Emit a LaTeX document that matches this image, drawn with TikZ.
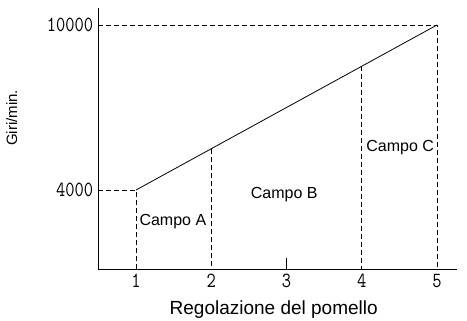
\documentclass[tikz,border=0pt]{standalone}
\usepackage{fontspec}
\setmainfont{Liberation Sans}
\usepackage{tikz}
\usetikzlibrary{positioning}

\tikzset{
  guide/.style={black,line width=0.6pt,dash pattern=on 5pt off 3pt},
  campo/.style={font=\fontsize{16}{18}\selectfont,inner sep=1pt},
  ticknum/.style={font=\ttfamily\fontsize{18}{20}\selectfont,inner sep=1pt,yscale=1.2}
}

\begin{document}
\begin{tikzpicture}[x=75.25pt,y=27.5pt]
        \useasboundingbox (-0.8073,-0.7273) rectangle (5.3987,10.9091);
        % assi
        \coordinate (O) at (0.5,1.1);
        \coordinate (ytop) at (0.5,10.62);
        \coordinate (xend) at (5.27,1.1);
        \draw[line width=0.9pt] (ytop) -- (O) -- (xend);
        % retta giri/min
        \coordinate (p1) at (1,4);
        \coordinate (p2) at (2,5.5);
        \coordinate (p4) at (4,8.5);
        \coordinate (p5) at (5,10);
        \draw[line width=0.8pt] (p1) -- (p5);
        % tacche e numeri
        \foreach \k in {1,...,5} {
          \coordinate (b\k) at (\k,1.1);
          \node[ticknum,anchor=north] (n\k) at ([yshift=-3pt]b\k) {\k};
        }
        \draw[line width=0.7pt] (b3) -- ++(0,0.44);
        % linee tratteggiate
        \coordinate (y4) at (0.5,4);
        \coordinate (y10) at (0.5,10);
        \draw[guide] (y4) -- (p1) -- (b1);
        \draw[guide] (y10) -- (p5) -- (b5);
        \draw[guide] (p2) -- (b2);
        \draw[guide] (p4) -- (b4);
        % etichette
        \node[ticknum,anchor=east] (l10) at ([xshift=-4pt]y10) {10000};
        \node[ticknum,anchor=east] (l4) at ([xshift=-4pt]y4) {4000};
        \node[campo] (cA) at (1.49,2.84) {Campo A};
        \node[campo] (cB) at (2.97,3.82) {Campo B};
        \node[campo] (cC) at (4.51,5.53) {Campo C};
        \node[font=\fontsize{19}{21}\selectfont] (xl) at (2.83,-0.36) {Regolazione del pomello};
        \node[font=\fontsize{15}{17}\selectfont,rotate=90] (yl) at (-0.65,6.62) {Giri/min.};
\end{tikzpicture}
\end{document}
